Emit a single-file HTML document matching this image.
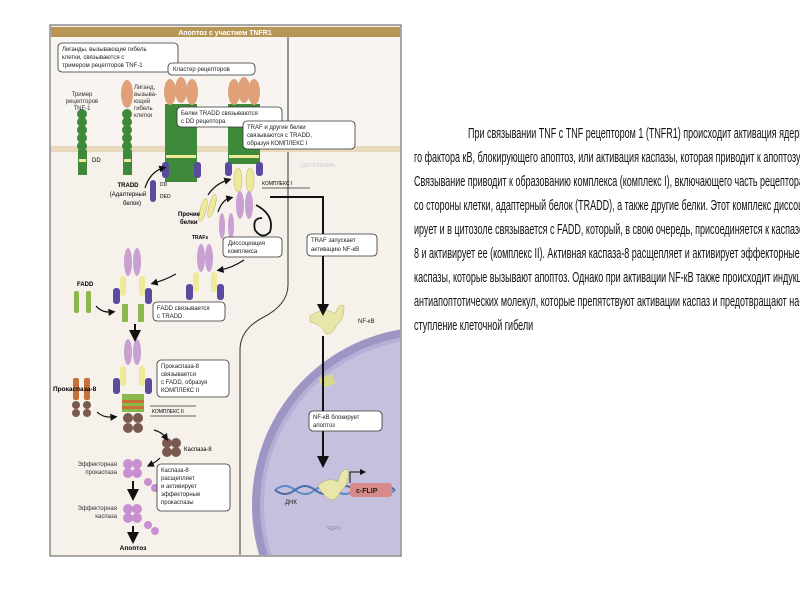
<!DOCTYPE html>
<html><head><meta charset="utf-8"><style>
html,body{margin:0;padding:0;width:800px;height:600px;overflow:hidden;background:#fff}
.t{position:absolute;left:0;top:0}
#txt{position:absolute;left:400px;top:0;width:400px;height:600px;overflow:hidden}
.ln{position:absolute;font-family:"Liberation Sans",sans-serif;font-size:14.5px;color:#111;white-space:nowrap;transform-origin:0 0;transform:scaleX(0.62)}
</style></head><body>
<svg class="t" width="800" height="600" viewBox="0 0 800 600" font-family="Liberation Sans, sans-serif">
<defs>
<clipPath id="fr"><rect x="51" y="27" width="349" height="528"/></clipPath>
<marker id="ah" markerWidth="6" markerHeight="6" refX="3" refY="3" orient="auto"><path d="M0,0 L6,3 L0,6 z" fill="#111"/></marker>
</defs>
<rect x="50" y="25" width="351" height="531" fill="#f6f1ea" stroke="#555" stroke-width="1"/>
<g clip-path="url(#fr)">
<rect x="51" y="37" width="349" height="111" fill="#f8f5f0"/>
<rect x="51" y="146" width="349" height="6" fill="#e8d8bc"/>
<line x1="288" y1="37" x2="288" y2="146" stroke="#333" stroke-width="1"/>
<path d="M288,152 L288,285 Q288,305 262,318 Q240,330 240,350 L240,556" fill="none" stroke="#333" stroke-width="1"/>
<circle cx="430" cy="505" r="178" fill="#9d96c4"/>
<circle cx="430" cy="505" r="170" fill="#b6b0d6"/>
<circle cx="430" cy="505" r="166" fill="#c4c0dd"/>
<text x="327" y="530" font-size="5" fill="#8888bb">ЯДРО</text>
<rect x="320" y="376" width="14" height="10" fill="#d8d88a" transform="rotate(-20 327 381)"/>
<path d="M275,490 Q285,482 295,490 T315,490 T335,490 T355,490 T375,490 T395,490" fill="none" stroke="#5a8ac8" stroke-width="2"/>
<path d="M275,490 Q285,498 295,490 T315,490 T335,490 T355,490 T375,490 T395,490" fill="none" stroke="#4a6aa8" stroke-width="2"/>
<rect x="350" y="483" width="42" height="14" rx="3" fill="#d88a8a"/>
<text x="356" y="493" font-size="7" font-weight="bold" fill="#222">c-FLIP</text>
<path d="M350,483 L350,472 L363,472" fill="none" stroke="#111" stroke-width="1" marker-end="url(#ah)"/>
<text x="285" y="504" font-size="6" fill="#222">ДНК</text>
<g fill="#e8e6a8" stroke="#aab060" stroke-width=".5">
<path d="M310,316 Q325,306 335,314 Q340,302 344,306 Q345,318 336,326 Q334,334 326,334 Q322,324 310,322z"/>
<path d="M318,486 Q328,476 338,482 Q342,466 348,470 Q350,484 340,492 Q338,500 330,500 Q322,494 318,486z"/>
</g>
</g>
<rect x="51" y="27" width="349" height="10" fill="#b89656"/>
<text x="225" y="35" font-size="7" font-weight="bold" fill="#fff" text-anchor="middle">Апоптоз с участием TNFR1</text>
<text x="300" y="167" font-size="5" fill="#ccc">ЦИТОПЛАЗМА</text>
<g fill="#3f8a3a">
<rect x="78" y="150" width="9" height="25"/>
<circle cx="82" cy="114" r="5"/><circle cx="82" cy="122" r="5"/><circle cx="82" cy="130" r="5"/><circle cx="82" cy="138" r="5"/><circle cx="82" cy="146" r="5"/>
<rect x="123" y="150" width="9" height="25"/>
<circle cx="127" cy="114" r="5"/><circle cx="127" cy="122" r="5"/><circle cx="127" cy="130" r="5"/><circle cx="127" cy="138" r="5"/><circle cx="127" cy="146" r="5"/>
<rect x="165" y="104" width="32" height="78"/>
<rect x="228" y="104" width="32" height="60"/>
</g>
<g fill="#eeea9a"><rect x="79" y="159" width="7" height="3"/><rect x="124" y="159" width="7" height="3"/><rect x="166" y="155" width="30" height="3"/><rect x="229" y="155" width="30" height="3"/></g>
<g fill="#e0a07a">
<ellipse cx="127" cy="94" rx="6" ry="14"/>
<ellipse cx="170" cy="92" rx="6" ry="13"/><ellipse cx="181" cy="90" rx="6" ry="13"/><ellipse cx="192" cy="92" rx="6" ry="13"/>
<ellipse cx="234" cy="92" rx="6" ry="13"/><ellipse cx="244" cy="90" rx="6" ry="13"/><ellipse cx="254" cy="92" rx="6" ry="13"/>
</g>
<g fill="#5a4aa0"><rect x="162" y="162" width="7" height="16" rx="3"/><rect x="194" y="162" width="7" height="16" rx="3"/><rect x="225" y="162" width="7" height="14" rx="3"/><rect x="256" y="162" width="7" height="14" rx="3"/>
<rect x="150" y="180" width="6" height="22" rx="3"/></g>
<text x="92" y="162" font-size="6">DD</text>
<text x="160" y="186" font-size="5">DD</text><text x="160" y="198" font-size="5">DED</text>
<text x="82" y="96" font-size="6" text-anchor="middle" fill="#333">Тример</text>
<text x="82" y="103" font-size="6" text-anchor="middle" fill="#333">рецепторов</text>
<text x="82" y="110" font-size="6" text-anchor="middle" fill="#333">TNF-1</text>
<g font-size="6" fill="#333"><text x="134" y="89">Лиганд,</text><text x="134" y="96">вызыва-</text><text x="134" y="103">ющий</text><text x="134" y="110">гибель</text><text x="134" y="117">клетки</text></g>
<text x="128" y="187" font-size="6" font-weight="bold" text-anchor="middle">TRADD</text>
<text x="128" y="196" font-size="6" text-anchor="middle">(Адаптерный</text>
<text x="132" y="205" font-size="6" text-anchor="middle">белок)</text>
<g fill="#eeea9a" stroke="#aaa060" stroke-width=".4"><ellipse cx="238" cy="180" rx="4" ry="12"/><ellipse cx="250" cy="180" rx="4" ry="12"/>
<ellipse cx="203" cy="210" rx="3" ry="12" transform="rotate(15 203 210)"/><ellipse cx="212" cy="206" rx="3" ry="12" transform="rotate(15 212 206)"/></g>
<g fill="#c9a0d2"><ellipse cx="240" cy="205" rx="4" ry="14"/><ellipse cx="249" cy="205" rx="4" ry="14"/>
<ellipse cx="222" cy="226" rx="3" ry="13"/><ellipse cx="231" cy="226" rx="3" ry="13"/></g>
<text x="178" y="216" font-size="6" font-weight="bold">Прочие</text><text x="180" y="224" font-size="6" font-weight="bold">белки</text>
<text x="192" y="239" font-size="5" font-weight="bold">TRAFs</text>
<text x="262" y="185" font-size="5">КОМПЛЕКС I</text>
<line x1="262" y1="188" x2="310" y2="188" stroke="#333" stroke-width=".7"/>
<path d="M270,197 L323,197 L323,310" fill="none" stroke="#111" stroke-width="2" marker-end="url(#ah)"/>
<line x1="323" y1="336" x2="323" y2="462" stroke="#111" stroke-width="2" marker-end="url(#ah)"/>
<path d="M256,205 Q275,215 270,232 Q262,240 255,230 Q252,218 262,218" fill="none" stroke="#111" stroke-width="1.8"/>
<path d="M145,188 Q150,172 163,168" fill="none" stroke="#111" stroke-width="1.2" marker-end="url(#ah)"/>
<path d="M208,195 Q215,184 228,180" fill="none" stroke="#111" stroke-width="1.2" marker-end="url(#ah)"/>
<path d="M218,212 Q222,200 230,198" fill="none" stroke="#111" stroke-width="1.2" marker-end="url(#ah)"/>
<g fill="#c9a0d2"><ellipse cx="201" cy="258" rx="4" ry="14"/><ellipse cx="209" cy="258" rx="4" ry="14"/>
<ellipse cx="128" cy="262" rx="4" ry="14"/><ellipse cx="137" cy="262" rx="4" ry="14"/>
<ellipse cx="128" cy="352" rx="4" ry="13"/><ellipse cx="137" cy="352" rx="4" ry="13"/></g>
<g fill="#eeea9a"><rect x="193" y="272" width="6" height="20" rx="3"/><rect x="211" y="272" width="6" height="20" rx="3"/>
<rect x="120" y="276" width="6" height="20" rx="3"/><rect x="139" y="276" width="6" height="20" rx="3"/>
<rect x="120" y="366" width="6" height="20" rx="3"/><rect x="139" y="366" width="6" height="20" rx="3"/></g>
<g fill="#5a4aa0"><rect x="186" y="284" width="7" height="16" rx="3"/><rect x="217" y="284" width="7" height="16" rx="3"/>
<rect x="113" y="288" width="7" height="16" rx="3"/><rect x="145" y="288" width="7" height="16" rx="3"/>
<rect x="113" y="378" width="7" height="16" rx="3"/><rect x="145" y="378" width="7" height="16" rx="3"/></g>
<g fill="#8ab84a"><rect x="122" y="304" width="6" height="18"/><rect x="138" y="304" width="6" height="18"/>
<rect x="74" y="291" width="5" height="22" rx="2"/><rect x="86" y="291" width="5" height="22" rx="2"/>
<rect x="122" y="394" width="22" height="18"/></g>
<g fill="#c8703a"><rect x="122" y="400" width="22" height="3"/><rect x="122" y="406" width="22" height="3"/>
<rect x="73" y="378" width="6" height="22" rx="2"/><rect x="84" y="378" width="6" height="22" rx="2"/></g>
<g fill="#7a5a50"><circle cx="76" cy="405" r="4"/><circle cx="87" cy="405" r="4"/><circle cx="76" cy="413" r="4"/><circle cx="87" cy="413" r="4"/>
<circle cx="128" cy="418" r="5"/><circle cx="138" cy="418" r="5"/><circle cx="128" cy="428" r="5"/><circle cx="138" cy="428" r="5"/>
<circle cx="167" cy="443" r="5"/><circle cx="176" cy="443" r="5"/><circle cx="167" cy="452" r="5"/><circle cx="176" cy="452" r="5"/></g>
<g fill="#c890d0"><circle cx="128" cy="464" r="5"/><circle cx="137" cy="464" r="5"/><circle cx="128" cy="473" r="5"/><circle cx="137" cy="473" r="5"/>
<circle cx="148" cy="482" r="4"/><circle cx="155" cy="488" r="4"/>
<circle cx="128" cy="509" r="5"/><circle cx="137" cy="509" r="5"/><circle cx="128" cy="518" r="5"/><circle cx="137" cy="518" r="5"/>
<circle cx="148" cy="525" r="4"/><circle cx="155" cy="531" r="4"/></g>
<text x="77" y="286" font-size="6" font-weight="bold">FADD</text>
<text x="53" y="391" font-size="6.5" font-weight="bold">Прокаспаза-8</text>
<text x="152" y="413" font-size="5">КОМПЛЕКС II</text>
<line x1="150" y1="406" x2="196" y2="406" stroke="#333" stroke-width=".7"/><line x1="150" y1="416" x2="196" y2="416" stroke="#333" stroke-width=".7"/>
<text x="184" y="451" font-size="6">Каспаза-8</text>
<g font-size="6" text-anchor="end" fill="#333"><text x="117" y="466">Эффекторная</text><text x="117" y="474">прокаспаза</text><text x="117" y="510">Эффекторная</text><text x="117" y="518">каспаза</text></g>
<text x="133" y="550" font-size="6.5" font-weight="bold" text-anchor="middle">Апоптоз</text>
<g stroke="#111" stroke-width="2" marker-end="url(#ah)"><line x1="135" y1="324" x2="135" y2="336"/><line x1="133" y1="481" x2="133" y2="495"/><line x1="133" y1="526" x2="133" y2="538"/></g>
<g fill="none" stroke="#111" stroke-width="1.2" marker-end="url(#ah)"><path d="M244,260 Q232,268 220,270"/><path d="M176,274 Q165,280 154,283"/><path d="M96,306 Q102,313 112,312"/><path d="M97,412 Q103,418 114,417"/><path d="M154,430 Q162,432 166,438"/><path d="M160,458 Q156,462 150,465"/></g>
<g fill="#fff" stroke="#333" stroke-width=".8">
<rect x="58" y="43" width="120" height="29" rx="4"/><rect x="168" y="63" width="87" height="12" rx="4"/>
<rect x="177" y="107" width="105" height="20" rx="4"/><rect x="243" y="121" width="112" height="28" rx="4"/>
<rect x="223" y="237" width="59" height="20" rx="4"/><rect x="307" y="234" width="70" height="22" rx="4"/>
<rect x="153" y="302" width="72" height="19" rx="4"/><rect x="157" y="360" width="72" height="37" rx="4"/>
<rect x="157" y="464" width="73" height="47" rx="4"/><rect x="309" y="411" width="73" height="20" rx="4"/>
</g>
<g font-size="6" fill="#222">
<text x="62" y="51">Лиганды, вызывающие гибель</text><text x="62" y="59">клетки, связываются с</text><text x="62" y="67">тримером рецепторов TNF-1</text>
<text x="173" y="71">Кластер рецепторов</text>
<text x="181" y="115">Белки TRADD связываются</text><text x="181" y="123">с DD рецептора</text>
<text x="247" y="129">TRAF и другие белки</text><text x="247" y="137">связываются с TRADD,</text><text x="247" y="145">образуя КОМПЛЕКС I</text>
<text x="228" y="245">Диссоциация</text><text x="228" y="253">комплекса</text>
<text x="311" y="242">TRAF запускает</text><text x="311" y="251">активацию NF-кB</text>
<text x="157" y="310">FADD связывается</text><text x="157" y="318">с TRADD</text>
<text x="161" y="368">Прокаспаза-8</text><text x="161" y="376">связывается</text><text x="161" y="384">с FADD, образуя</text><text x="161" y="392">КОМПЛЕКС II</text>
<text x="161" y="472">Каспаза-8</text><text x="161" y="480">расщепляет</text><text x="161" y="488">и активирует</text><text x="161" y="496">эффекторные</text><text x="161" y="504">прокаспазы</text>
<text x="313" y="419">NF-кB блокирует</text><text x="313" y="427">апоптоз</text>
<text x="358" y="323">NF-кB</text>
</g>
</svg>
<div id="txt">
<div class="ln" style="left:68px;top:126px">При связывании TNF с TNF рецептором 1 (TNFR1) происходит активация ядерного</div>
<div class="ln" style="left:14px;top:150px">го фактора кB, блокирующего апоптоз, или активация каспазы, которая приводит к апоптозу.</div>
<div class="ln" style="left:14px;top:174px">Связывание приводит к образованию комплекса (комплекс I), включающего часть рецептора</div>
<div class="ln" style="left:14px;top:198px">со стороны клетки, адаптерный белок (TRADD), а также другие белки. Этот комплекс диссоци-</div>
<div class="ln" style="left:14px;top:222px">ирует и в цитозоле связывается с FADD, который, в свою очередь, присоединяется к каспазе-</div>
<div class="ln" style="left:14px;top:246px">8 и активирует ее (комплекс II). Активная каспаза-8 расщепляет и активирует эффекторные</div>
<div class="ln" style="left:14px;top:270px">каспазы, которые вызывают апоптоз. Однако при активации NF-кB также происходит индукция</div>
<div class="ln" style="left:14px;top:294px">антиапоптотических молекул, которые препятствуют активации каспаз и предотвращают на-</div>
<div class="ln" style="left:14px;top:318px">ступление клеточной гибели</div>
</div>
</body></html>
